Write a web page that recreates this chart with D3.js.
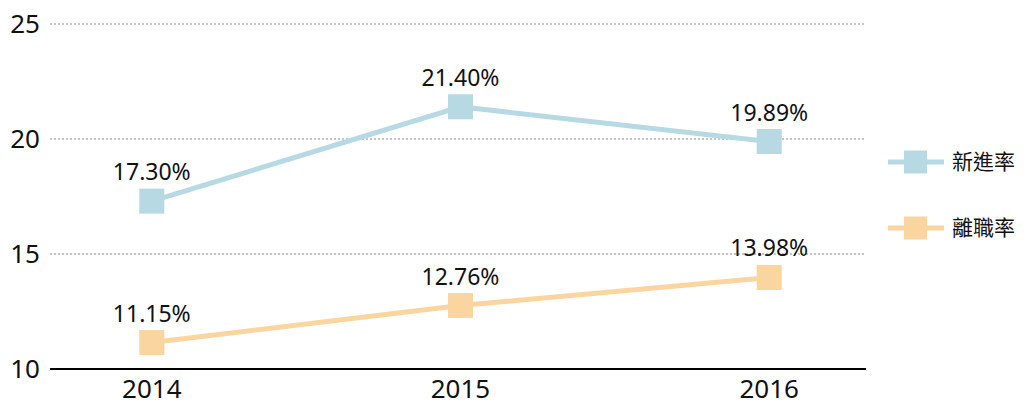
<!DOCTYPE html>
<html>
<head>
<meta charset="utf-8">
<script src="https://d3js.org/d3.v7.min.js"></script>
<style>
    body {
        margin: 0;
        font-family: "Noto Sans", "Noto Sans CJK TC", sans-serif;
        background: #fff;
    }
    .grid line {
        stroke: #c4c4c4;
        stroke-width: 2px;
        stroke-dasharray: 2,2;
    }
    .label {
        font-size: 23px;
        fill: #111;
    }
</style>
</head>
<body>
<script>
var width = 1026,
    height = 404;

// data
var years = ["2014", "2015", "2016"];
var seriesNames = ["新進率", "離職率"];
var newRate = [17.30, 21.40, 19.89];
var leaveRate = [11.15, 12.76, 13.98];
var yTicks = [10, 15, 20, 25];
var colors = ["#b6d9e3", "#fad59f"];

var series = [
    { name: seriesNames[0], values: newRate, color: colors[0] },
    { name: seriesNames[1], values: leaveRate, color: colors[1] }
];

var plotLeft = 50, plotRight = 866, plotTop = 24, plotBottom = 369;

var svg = d3.select("body").append("svg")
    .attr("width", width)
    .attr("height", height);

// points sit a few px right of the plot centre in the original
var x = d3.scalePoint()
    .domain(years)
    .range([plotLeft + 3, plotRight + 2])
    .padding(0.32);

var y = d3.scaleLinear()
    .domain([10, 25])
    .range([plotBottom, plotTop]);

// gridlines
svg.append("g").attr("class", "grid")
    .selectAll("line")
    .data(yTicks.filter(function(d) { return d > 10; }))
    .enter().append("line")
    .attr("x1", plotLeft)
    .attr("x2", plotRight)
    .attr("y1", function(d) { return y(d); })
    .attr("y2", function(d) { return y(d); });

// baseline
svg.append("line")
    .attr("x1", plotLeft).attr("x2", plotRight)
    .attr("y1", y(10)).attr("y2", y(10))
    .style("stroke", "#000")
    .style("stroke-width", 2);

// y tick labels
svg.selectAll("text.ytick")
    .data(yTicks)
    .enter().append("text")
    .attr("class", "ytick")
    .attr("x", 40)
    .attr("y", function(d) { return y(d) + 9; })
    .attr("text-anchor", "end")
    .style("font-size", "26px")
    .style("fill", "#111")
    .text(function(d) { return d; });

// x tick labels
svg.selectAll("text.xtick")
    .data(years)
    .enter().append("text")
    .attr("class", "xtick")
    .attr("x", function(d) { return x(d); })
    .attr("y", 398)
    .attr("text-anchor", "middle")
    .style("font-size", "26px")
    .style("fill", "#111")
    .text(function(d) { return d; });

var line = d3.line()
    .x(function(d, i) { return x(years[i]); })
    .y(function(d) { return y(d); });

var ms = 25;

series.forEach(function(s) {
    svg.append("path")
        .datum(s.values)
        .attr("d", line)
        .style("fill", "none")
        .style("stroke", s.color)
        .style("stroke-width", 5);

    svg.selectAll(null)
        .data(s.values)
        .enter().append("rect")
        .attr("x", function(d, i) { return x(years[i]) - ms / 2; })
        .attr("y", function(d) { return y(d) - ms / 2; })
        .attr("width", ms)
        .attr("height", ms)
        .style("fill", s.color);

    svg.selectAll(null)
        .data(s.values)
        .enter().append("text")
        .attr("class", "label")
        .attr("x", function(d, i) { return x(years[i]); })
        .attr("y", function(d) { return y(d) - 21; })
        .attr("text-anchor", "middle")
        .text(function(d) { return d.toFixed(2) + "%"; });
});

// legend
var legend = svg.selectAll("g.legend")
    .data(series)
    .enter().append("g")
    .attr("class", "legend")
    .attr("transform", function(d, i) { return "translate(888," + (162 + i * 66) + ")"; });

legend.append("line")
    .attr("x1", 0).attr("x2", 56)
    .style("stroke", function(d) { return d.color; })
    .style("stroke-width", 5);

legend.append("rect")
    .attr("x", 16).attr("y", -11.5)
    .attr("width", 23).attr("height", 23)
    .style("fill", function(d) { return d.color; });

legend.append("text")
    .attr("x", 64)
    .attr("dy", "0.35em")
    .style("font-family", "'Noto Sans CJK TC', sans-serif")
    .style("font-size", "21px")
    .style("fill", "#111")
    .text(function(d) { return d.name; });
</script>
</body>
</html>
